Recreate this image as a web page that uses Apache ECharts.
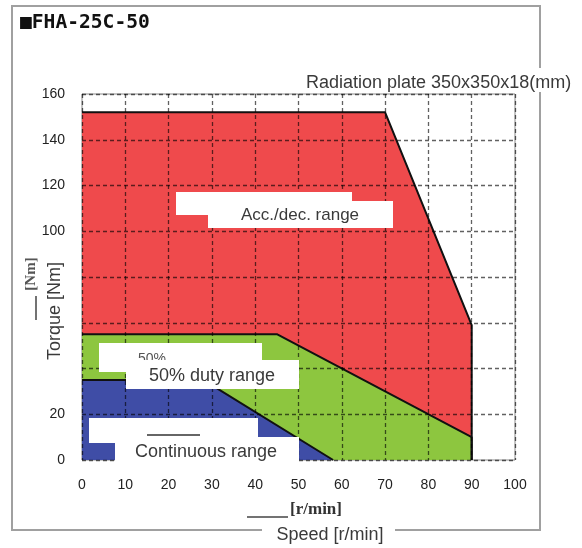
<!DOCTYPE html>
<html>
<head>
<meta charset="utf-8">
<script src="https://cdn.jsdelivr.net/npm/echarts@6/dist/echarts.min.js"></script>
<style>html,body{margin:0;padding:0;background:#fff;}#chart{width:582px;height:548px;}</style>
</head>
<body>
<div id="chart"></div>
<script>
// ---- data ----
const xTicks = [0, 10, 20, 30, 40, 50, 60, 70, 80, 90, 100];
const yTicks = [0, 20, 40, 60, 80, 100, 120, 140, 160];
const accSpeed = [0, 70, 90, 90];
const accTorque = [152, 152, 59, 0];
const dutySpeed = [0, 45, 90, 90];
const dutyTorque = [55, 55, 10, 0];
const contSpeed = [0, 28, 58];
const contTorque = [35, 35, 0];
const title = '■FHA-25C-50';
const plateNote = 'Radiation plate 350x350x18(mm)';
const accLabel = 'Acc./dec. range';
const dutyLabel = '50% duty range';
const contLabel = 'Continuous range';
const yName = 'Torque [Nm]';
const xName = 'Speed [r/min]';

const zip = (xs, ys) => xs.map((x, i) => [x, ys[i]]);
const chart = echarts.init(document.getElementById('chart'), null, {renderer: 'canvas'});
const sans = 'Liberation Sans, Arial, sans-serif';
const serif = 'Liberation Serif, Times New Roman, serif';
const txtCol = '#3a3a3a';
const split = {show: true, lineStyle: {color: 'rgba(0,0,0,0.62)', type: [4, 3], width: 1.3}};

function areaSeries(name, data, color) {
  return {
    name, type: 'line', data, symbol: 'none', smooth: false,
    lineStyle: {color: '#111', width: 2},
    areaStyle: {color, opacity: 1},
    z: 2, silent: true
  };
}

chart.setOption({
  animation: false,
  backgroundColor: '#fff',
  grid: {left: 82, top: 94, width: 433, height: 366, show: true, borderColor: '#8a8a8a', borderWidth: 1, backgroundColor: 'transparent'},
  xAxis: {
    type: 'value', min: xTicks[0], max: xTicks[xTicks.length - 1], interval: 10, z: 5,
    axisLine: {show: false}, axisTick: {show: false},
    axisLabel: {color: '#222', fontSize: 14, fontFamily: sans, margin: 18},
    splitLine: split
  },
  yAxis: {
    type: 'value', min: yTicks[0], max: yTicks[yTicks.length - 1], interval: 20, z: 5,
    axisLine: {show: false}, axisTick: {show: false},
    axisLabel: {color: '#222', fontSize: 14, fontFamily: sans, margin: 17},
    splitLine: split
  },
  series: [
    areaSeries(accLabel, zip(accSpeed, accTorque), '#EF4A4C'),
    areaSeries(dutyLabel, zip(dutySpeed, dutyTorque), '#8DC63F'),
    areaSeries(contLabel, zip(contSpeed, contTorque), '#3F4DA6')
  ],
  graphic: [
    {type: 'rect', z: 0, shape: {x: 12, y: 6, width: 528, height: 524}, style: {fill: 'none', stroke: '#a0a0a0', lineWidth: 2}},
    {type: 'text', z: 20, x: 20, y: 23, scaleX: 0.98, style: {text: title, font: 'bold 20px DejaVu Sans Mono, monospace', fill: '#111', verticalAlign: 'middle'}},
    // plate note
    {type: 'rect', z: 20, shape: {x: 300, y: 68, width: 282, height: 24}, style: {fill: '#fff'}},
    {type: 'text', z: 21, x: 306, y: 83, style: {text: plateNote, font: '18px ' + sans, fill: txtCol, verticalAlign: 'middle'}},
    // acc/dec
    {type: 'rect', z: 20, shape: {x: 176, y: 192, width: 176, height: 23}, style: {fill: '#fff'}},
    {type: 'rect', z: 21, shape: {x: 208, y: 201, width: 185, height: 27}, style: {fill: '#fff'}},
    {type: 'text', z: 22, x: 300, y: 215, style: {text: accLabel, font: '17px ' + sans, fill: txtCol, align: 'center', verticalAlign: 'middle'}},
    // 50% duty
    {type: 'rect', z: 20, shape: {x: 99, y: 343, width: 163, height: 29}, style: {fill: '#fff'}},
    {type: 'text', z: 21, x: 152, y: 359, style: {text: '50%', font: '14px ' + sans, fill: '#555', align: 'center', verticalAlign: 'middle'}},
    {type: 'rect', z: 22, shape: {x: 126, y: 360, width: 173, height: 29}, style: {fill: '#fff'}},
    {type: 'text', z: 23, x: 212, y: 376, style: {text: dutyLabel, font: '18px ' + sans, fill: txtCol, align: 'center', verticalAlign: 'middle'}},
    // continuous
    {type: 'rect', z: 20, shape: {x: 89, y: 418, width: 169, height: 25}, style: {fill: '#fff'}},
    {type: 'line', z: 21, shape: {x1: 147, y1: 435, x2: 200, y2: 435}, style: {stroke: '#333', lineWidth: 1.5}},
    {type: 'rect', z: 22, shape: {x: 115, y: 437, width: 184, height: 28}, style: {fill: '#fff'}},
    {type: 'text', z: 23, x: 206, y: 452, style: {text: contLabel, font: '18px ' + sans, fill: txtCol, align: 'center', verticalAlign: 'middle'}},
    // y axis name
    {type: 'rect', z: 20, shape: {x: 15, y: 237, width: 64, height: 158}, style: {fill: '#fff'}},
    {type: 'text', z: 21, x: 31, y: 274, rotation: Math.PI / 2, style: {text: '[Nm]', font: 'bold 15px ' + serif, fill: '#555', align: 'center', verticalAlign: 'middle'}},
    {type: 'line', z: 21, shape: {x1: 36, y1: 296, x2: 36, y2: 320}, style: {stroke: '#444', lineWidth: 1.5}},
    {type: 'text', z: 21, x: 55, y: 311, rotation: Math.PI / 2, style: {text: yName, font: '18px ' + sans, fill: txtCol, align: 'center', verticalAlign: 'middle'}},
    // x axis name
    {type: 'text', z: 21, x: 316, y: 510, style: {text: '[r/min]', font: 'bold 17px ' + serif, fill: '#333', align: 'center', verticalAlign: 'middle'}},
    {type: 'line', z: 21, shape: {x1: 247, y1: 517, x2: 288, y2: 517}, style: {stroke: '#444', lineWidth: 1.5}},
    {type: 'rect', z: 20, shape: {x: 262, y: 522, width: 133, height: 26}, style: {fill: '#fff'}},
    {type: 'text', z: 21, x: 330, y: 535, style: {text: xName, font: '18px ' + sans, fill: txtCol, align: 'center', verticalAlign: 'middle'}}
  ]
});
</script>
</body>
</html>
